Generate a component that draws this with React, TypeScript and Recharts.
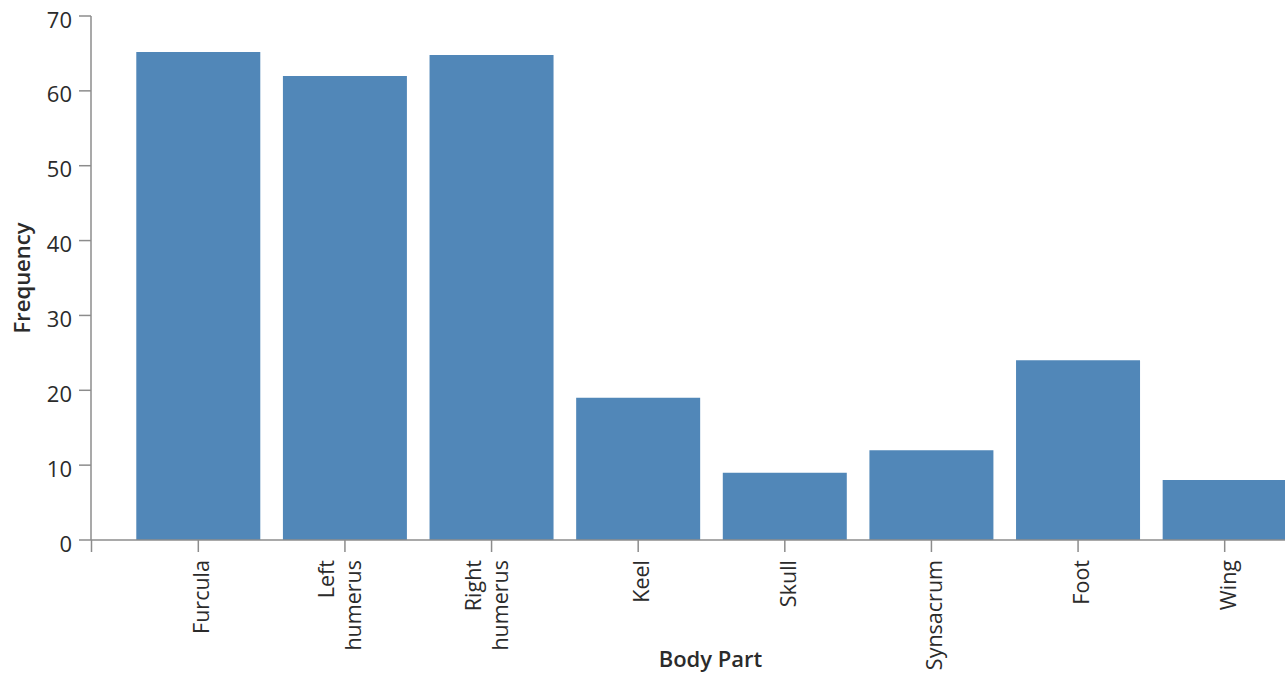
import React from 'react';
import * as R from 'recharts';

const { BarChart, Bar, XAxis, YAxis, Label, Customized } = R as any;

// ---- data ----
const categories = ['Furcula', 'Left humerus', 'Right humerus', 'Keel', 'Skull', 'Synsacrum', 'Foot', 'Wing'];
const frequencies = [65.2, 62, 64.8, 19, 9, 12, 24, 8];
const tickLabelLines = [
  ['Furcula'],
  ['Left', 'humerus'],
  ['Right', 'humerus'],
  ['Keel'],
  ['Skull'],
  ['Synsacrum'],
  ['Foot'],
  ['Wing'],
];
const yTicks = [0, 10, 20, 30, 40, 50, 60, 70];
const xTitle = 'Body Part';
const yTitle = 'Frequency';

const data = categories.map((c, i) => ({ part: c, freq: frequencies[i] }));

// ---- style ----
const FONT = '"Open Sans", "Noto Sans", sans-serif';
const TEXT = '#2b2b2b';
const AXIS = '#8c8c8c';
const BAR = '#5187b8';

const XTick = (props: any) => {
  const { x, y, payload } = props;
  const idx = categories.indexOf(payload.value);
  const lines = idx >= 0 ? tickLabelLines[idx] : [String(payload.value)];
  const offsets = lines.length === 1 ? [11] : [-11, 16];
  return (
    <g>
      {lines.map((l, i) => {
        const bx = x + offsets[i];
        return (
          <text
            key={i}
            x={bx}
            y={y}
            transform={`rotate(-90 ${bx} ${y})`}
            textAnchor="end"
            fontSize={21.5}
            fill={TEXT}
            fontFamily={FONT}
          >
            {l}
          </text>
        );
      })}
    </g>
  );
};

const YTick = (props: any) => {
  const { x, y, payload } = props;
  return (
    <text x={x} y={y + 11.5} textAnchor="end" fontSize={22} fill={TEXT} fontFamily={FONT}>
      {payload.value}
    </text>
  );
};

const CornerStub = () => {
  const usePlotArea = (R as any).usePlotArea;
  const area = usePlotArea ? usePlotArea() : null;
  if (!area) return null;
  const by = area.y + area.height;
  return <line x1={area.x + 0.5} x2={area.x + 0.5} y1={by} y2={by + 12} stroke={AXIS} strokeWidth={1.5} />;
};

export default function App() {
  return (
    <div
      style={{
        position: 'fixed',
        left: 0,
        top: 0,
        width: 1285,
        height: 675,
        overflow: 'hidden',
        background: '#fff',
      }}
    >
      <BarChart
        width={1330}
        height={675}
        data={data}
        margin={{ top: 16, right: 0, bottom: 0, left: 0 }}
        barCategoryGap="7.7%"
      >
        <XAxis
          dataKey="part"
          type="category"
          height={135}
          padding={{ left: 34, right: 32 }}
          interval={0}
          tickSize={12}
          tickMargin={8}
          stroke={AXIS}
          strokeWidth={1.5}
          tick={<XTick />}
        >
          <Label
            content={(p: any) => {
              const vb = p.viewBox || {};
              const cx = vb.x + vb.width / 2;
              return (
                <text x={cx} y={667} textAnchor="middle" fontSize={22} fontWeight={600} fill={TEXT} fontFamily={FONT}>
                  {xTitle}
                </text>
              );
            }}
          />
        </XAxis>
        <YAxis
          type="number"
          domain={[0, 70]}
          ticks={yTicks}
          width={91}
          tickSize={12}
          tickMargin={7}
          stroke={AXIS}
          strokeWidth={1.5}
          tick={<YTick />}
        >
          <Label
            content={(p: any) => {
              const vb = p.viewBox || {};
              const cx = vb.x + 30;
              const cy = vb.y + vb.height / 2;
              return (
                <text
                  x={cx}
                  y={cy}
                  transform={`rotate(-90 ${cx} ${cy})`}
                  textAnchor="middle"
                  fontSize={22}
                  fontWeight={600}
                  fill={TEXT}
                  fontFamily={FONT}
                >
                  {yTitle}
                </text>
              );
            }}
          />
        </YAxis>
        <Bar dataKey="freq" fill={BAR} isAnimationActive={false} />
        <Customized component={<CornerStub />} />
      </BarChart>
    </div>
  );
}
